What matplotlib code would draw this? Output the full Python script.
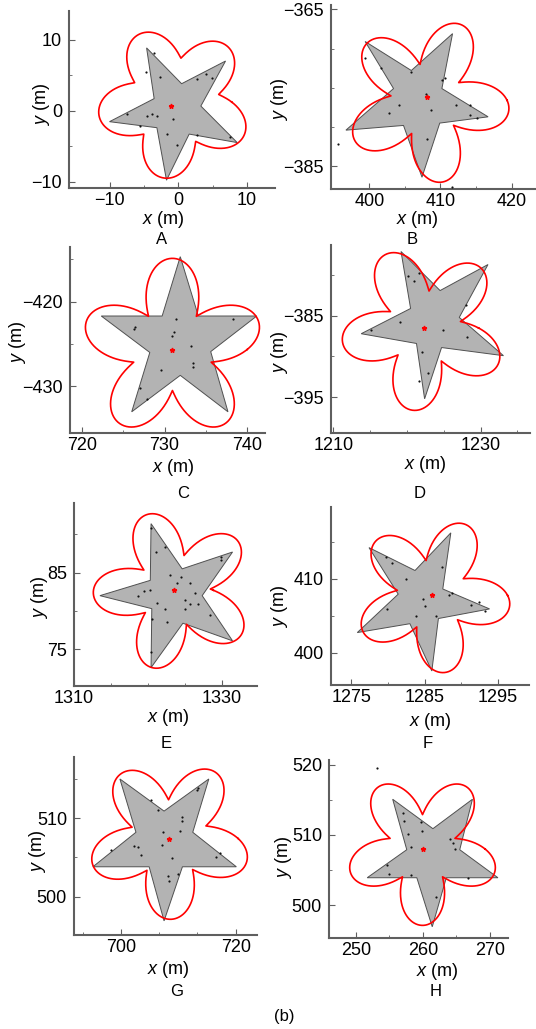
import numpy as np
import matplotlib
matplotlib.use("Agg")
import matplotlib.pyplot as plt
from matplotlib.patches import Polygon
from matplotlib.ticker import FixedLocator

plt.rcParams['font.family'] = ['Liberation Sans', 'DejaVu Sans']
plt.rcParams['mathtext.fontset'] = 'custom'
plt.rcParams['mathtext.it'] = 'Liberation Sans:italic'
plt.rcParams['mathtext.rm'] = 'Liberation Sans'

W, H = 536, 1029

# ---- panel data ----
# star polygon vertices, going round from one tip
star_a = [(-4.6, 8.85), (-3.5, 1.7), (-10.0, -1.55), (-3.1, -2.4), (-1.7, -9.8),
          (1.6, -3.3), (8.6, -4.5), (3.3, 0.65), (6.9, 7.0), (0.5, 3.8)]
star_b = [(399.4, -369.1), (403.4, -375.1), (396.7, -380.4), (404.8, -379.8), (407.4, -386.4),
          (409.9, -379.5), (416.7, -378.7), (410.2, -375.1), (411.7, -368.1), (405.9, -372.8)]
star_c = [(731.9, -414.7), (729.7, -421.7), (722.3, -421.7), (728.2, -426.0), (726.0, -433.0),
          (731.9, -428.7), (737.7, -433.0), (735.6, -425.9), (741.2, -421.7), (734.1, -421.7)]
star_d = [(1219.2, -377.1), (1220.5, -384.1), (1213.8, -387.2), (1221.3, -388.4), (1222.4, -395.2),
          (1224.7, -388.9), (1233.1, -389.9), (1227.1, -385.2), (1231.0, -378.7), (1224.5, -381.9)]
star_e = [(1320.4, 91.4), (1320.3, 84.0), (1313.5, 82.0), (1320.5, 80.3), (1320.4, 72.6),
          (1324.7, 78.4), (1331.4, 76.1), (1327.3, 82.0), (1331.4, 87.7), (1324.6, 85.5)]
star_f = [(1277.4, 414.2), (1281.4, 407.9), (1275.8, 402.7), (1283.0, 403.9), (1286.0, 397.5),
          (1286.9, 404.6), (1293.9, 405.9), (1287.5, 408.6), (1288.6, 416.2), (1283.7, 411.1)]
star_g = [(699.8, 515.0), (702.6, 508.2), (695.1, 503.8), (704.9, 503.8), (707.5, 496.9),
          (710.7, 503.8), (720.1, 503.8), (712.5, 508.2), (715.3, 515.0), (707.5, 510.9)]
star_h = [(255.5, 515.1), (257.6, 507.9), (251.7, 503.9), (259.1, 503.9), (261.4, 496.9),
          (263.5, 503.9), (271.2, 503.9), (265.5, 507.9), (267.4, 515.1), (261.5, 510.9)]

# red outline: centre x, centre y, lobe reach x, lobe reach y, valley fraction, first lobe angle
flower_a = (-0.5, 1.2, 11.2, 10.8, 0.58, 46)
flower_b = (408.1, -376.6, 11.6, 10.6, 0.44, 65)
flower_c = (730.95, -425.65, 11.0, 10.75, 0.45, 90)
flower_d = (1222.3, -386.5, 11.2, 10.2, 0.45, 46)
flower_e = (1323.5, 82.7, 10.9, 10.5, 0.45, 38)
flower_f = (1286.05, 407.75, 10.7, 10.6, 0.45, 64)
flower_g = (708.4, 507.4, 14.1, 10.3, 0.48, 55)
flower_h = (259.95, 508.0, 11.3, 10.9, 0.45, 54)

# red centre marks
centre_a = (-1.1, 0.7)
centre_b = (408.1, -376.2)
centre_c = (730.95, -425.7)
centre_d = (1222.3, -386.5)
centre_e = (1323.5, 82.7)
centre_f = (1286.05, 407.75)
centre_g = (708.4, 507.4)
centre_h = (259.95, 508.0)

# black sample points
dots_a = [(-3.5, 8.1), (-4.7, 5.5), (-2.7, 4.8), (2.8, 4.4), (4.0, 5.2), (4.9, 4.6), (-7.5, -0.5),
          (-4.6, -0.7), (-3.8, -0.4), (-3.1, -0.7), (-0.7, -1.2), (-5.5, -2.1), (-1.6, -3.3),
          (2.7, -3.4), (7.5, -3.7), (-0.1, -4.9)]
dots_b = [(399.4, -371.2), (401.6, -372.5), (405.9, -373.0), (410.2, -374.0), (410.6, -373.8),
          (408.0, -375.8), (408.7, -377.8), (404.1, -377.2), (402.8, -378.2), (412.2, -377.2),
          (414.2, -377.2), (414.1, -378.5), (415.2, -378.8), (408.1, -381.5), (395.6, -382.2),
          (411.6, -387.6)]
dots_c = [(731.4, -422.0), (726.4, -423.0), (726.3, -423.2), (731.1, -423.6), (730.9, -424.1),
          (733.2, -425.2), (729.6, -428.1), (733.5, -427.2), (733.4, -427.7), (738.3, -422.1),
          (727.0, -430.2), (727.8, -431.5)]
dots_d = [(1220.1, -380.1), (1220.9, -380.7), (1221.7, -379.8), (1228.0, -383.7), (1219.1, -385.7),
          (1215.1, -386.7), (1224.9, -386.8), (1228.1, -387.6), (1222.1, -389.4), (1222.9, -392.0),
          (1221.6, -393.0)]
dots_e = [(1320.4, 90.8), (1321.1, 87.7), (1322.3, 88.3), (1329.8, 87.1), (1329.8, 86.6),
          (1323.0, 84.7), (1324.5, 84.4), (1323.9, 83.6), (1325.7, 83.6), (1320.2, 82.7),
          (1319.5, 82.6), (1318.7, 82.0), (1326.3, 82.4), (1321.2, 81.1), (1322.3, 80.3),
          (1325.0, 81.4), (1325.7, 80.9), (1326.7, 80.9), (1325.0, 80.2), (1322.6, 78.6),
          (1328.4, 79.5), (1320.5, 79.0), (1320.4, 74.7)]
dots_f = [(1279.7, 412.9), (1280.6, 412.1), (1282.5, 409.9), (1287.4, 411.6), (1288.3, 407.8),
          (1288.8, 408.1), (1292.4, 406.8), (1291.3, 406.4), (1284.8, 407.2), (1285.0, 406.3),
          (1279.8, 405.9), (1283.8, 404.9), (1286.6, 404.9), (1293.3, 405.6)]
dots_g = [(705.2, 512.3), (706.5, 511.1), (713.4, 513.8), (713.3, 513.6), (710.7, 510.1),
          (710.7, 509.7), (710.3, 508.4), (707.4, 508.2), (707.1, 506.6), (702.3, 506.5),
          (703.0, 506.3), (703.5, 505.3), (698.2, 506.0), (717.2, 505.5), (716.5, 505.1),
          (708.8, 504.9), (708.1, 502.6), (708.4, 502.0), (710.0, 502.9)]
dots_h = [(253.2, 519.5), (257.0, 513.1), (257.2, 512.0), (259.7, 511.8), (259.8, 510.6),
          (257.8, 510.2), (258.2, 508.3), (264.0, 509.4), (264.5, 508.8), (264.8, 508.0),
          (254.6, 505.7), (254.9, 504.5), (258.3, 504.3), (266.8, 503.9), (262.0, 501.2)]

# axis limits and ticks
xlims = [(-15.9, 14.1), (394.6, 423.3), (718.5, 742.2), (1209.7, 1236.7),
         (1310.0, 1334.7), (1272.2, 1299.3), (691.8, 723.7), (246.0, 272.7)]
ylims = [(-10.9, 14.05), (-387.9, -364.45), (-435.5, -413.56), (-399.4, -376.3),
         (70.2, 94.1), (395.6, 419.7), (495.1, 517.8), (495.3, 520.7)]
xticks = [[-10, 0, 10], [400, 410, 420], [720, 730, 740], [1210, 1230],
          [1310, 1330], [1275, 1285, 1295], [700, 720], [250, 260, 270]]
yticks = [[-10, 0, 10], [-385, -365], [-430, -420], [-395, -385],
          [75, 85], [400, 410], [500, 510], [500, 510, 520]]
xminor = [[-5, 5], [405, 415], [725, 735], [1215, 1220, 1225, 1235],
          [1315, 1320, 1325], [1280, 1290], [693.3, 706.7, 713.3], [255, 265]]
yminor = [[-5, 5], [-380, -375, -370], [-425, -415], [-390, -380],
          [80, 90], [405, 415], [505, 515], [505, 515]]
letters = ["A", "B", "C", "D", "E", "F", "G", "H"]

# ---- layout in pixels ----
boxes = [(69, 11, 275, 188), (331, 5, 535, 189), (70, 247, 265, 433), (331, 245, 530, 433),
         (74, 503, 257, 686), (331, 507, 529, 685), (74, 757, 257, 935), (329, 760, 508, 938)]
xlab_pos = [(163, 219), (417, 219), (173, 467), (425, 465), (168, 718), (430, 721), (168, 969), (437, 972)]
letter_pos = [(162, 239), (412, 239), (183, 493), (420, 493), (166, 744), (428, 744), (177, 991), (436, 991)]
ylab_pos = [(41, 105), (280, 100), (18, 343), (280, 353), (40, 598), (280, 607), (38, 852), (283, 858)]

stars = [star_a, star_b, star_c, star_d, star_e, star_f, star_g, star_h]
flowers = [flower_a, flower_b, flower_c, flower_d, flower_e, flower_f, flower_g, flower_h]
centres = [centre_a, centre_b, centre_c, centre_d, centre_e, centre_f, centre_g, centre_h]
dots = [dots_a, dots_b, dots_c, dots_d, dots_e, dots_f, dots_g, dots_h]


def flower_outline(cx, cy, rx, ry, v, th0):
    t = np.linspace(0, 2 * np.pi, 721)
    g = v + (1 - v) * ((1 + np.cos(5 * (t - np.radians(th0)))) / 2) ** 0.55
    return cx + rx * g * np.cos(t), cy + ry * g * np.sin(t)


fig = plt.figure(figsize=(W / 100, H / 100), dpi=100)
fs = 13
spine_col = "#5f5f5f"

for i in range(8):
    l, t, r, b = boxes[i]
    ax = fig.add_axes([l / W, 1 - b / H, (r - l) / W, (b - t) / H])
    ax.add_patch(Polygon(stars[i], closed=True, facecolor="#b3b3b3",
                         edgecolor="#505050", lw=0.7, zorder=1))
    fx, fy = flower_outline(*flowers[i])
    ax.plot(fx, fy, color="red", lw=1.2, zorder=3)
    dx, dy = zip(*dots[i])
    ax.scatter(dx, dy, s=2.5, color="#111111", zorder=4, linewidths=0)
    ax.plot(centres[i][0], centres[i][1], marker="*", color="red", ms=3.5, zorder=5)

    ax.set_xlim(*xlims[i])
    ax.set_ylim(*ylims[i])
    ax.set_xticks(xticks[i])
    ax.set_yticks(yticks[i])
    ax.xaxis.set_minor_locator(FixedLocator(xminor[i]))
    ax.yaxis.set_minor_locator(FixedLocator(yminor[i]))
    ax.tick_params(which="both", direction="in", color=spine_col, labelsize=fs, pad=5)
    ax.tick_params(axis="x", which="both", pad=3)
    ax.tick_params(which="major", length=4, width=0.8)
    ax.tick_params(which="minor", length=2, width=0.6)
    for s in ["top", "right"]:
        ax.spines[s].set_visible(False)
    for s in ["left", "bottom"]:
        ax.spines[s].set_color(spine_col)
        ax.spines[s].set_linewidth(1.5)

    fig.text(xlab_pos[i][0] / W, 1 - xlab_pos[i][1] / H, "$x$ (m)", fontsize=fs,
             ha="center", va="center")
    fig.text(ylab_pos[i][0] / W, 1 - ylab_pos[i][1] / H, "$y$ (m)", fontsize=fs,
             ha="center", va="center", rotation=90)
    fig.text(letter_pos[i][0] / W, 1 - letter_pos[i][1] / H, letters[i], fontsize=12,
             ha="center", va="center")

fig.text(284 / W, 1 - 1016 / H, "(b)", fontsize=12, ha="center", va="center")

fig.savefig("out.png", dpi=100)
